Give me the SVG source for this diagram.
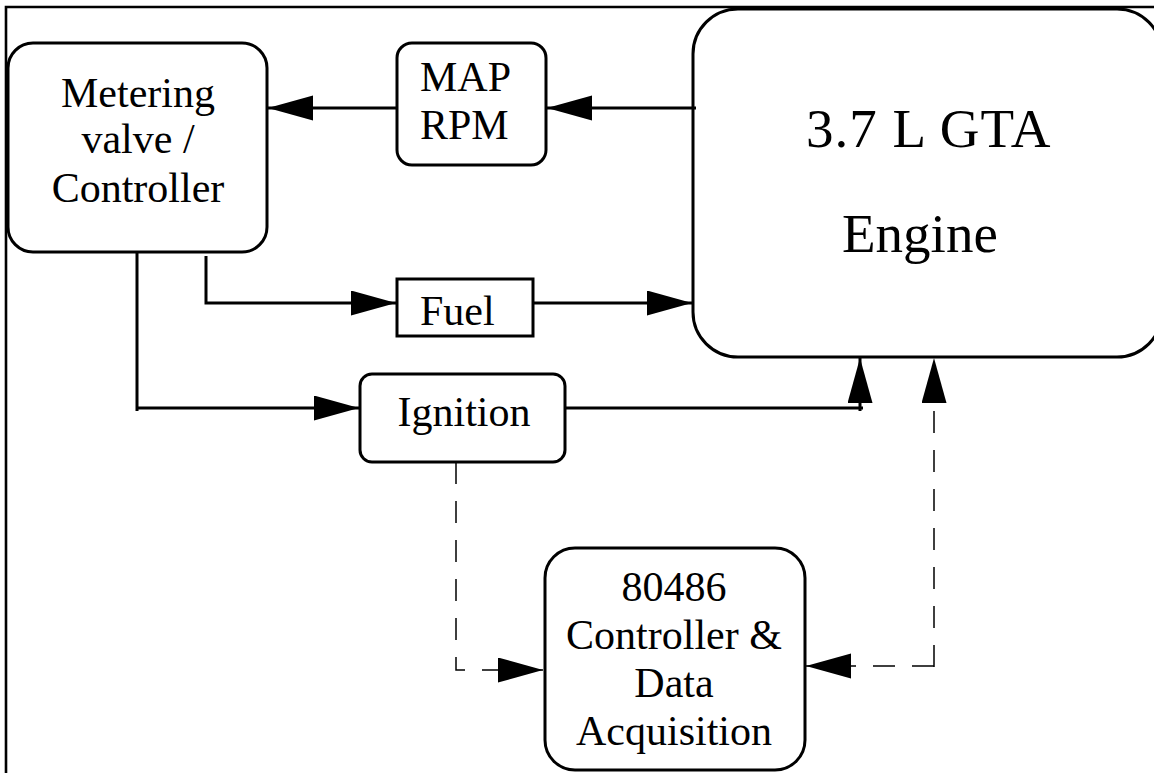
<svg xmlns="http://www.w3.org/2000/svg" width="1154" height="773" viewBox="0 0 1154 773">
<defs>
<style>
.box{fill:#fff;stroke:#000;stroke-width:3}
.t{font-family:"Liberation Serif","Times New Roman",serif;font-size:42px;fill:#000}
.big{font-size:55px}
.c{stroke:#000;stroke-width:3;fill:none}
.d{stroke:#000;stroke-width:1.5;fill:none;stroke-dasharray:22 17}
</style>
<marker id="ah" markerUnits="userSpaceOnUse" markerWidth="46" markerHeight="26" refX="45" refY="12.5" orient="auto">
<path d="M0,0 L45,12.5 L0,25 z" fill="#000"/>
</marker>
</defs>
<rect width="1154" height="773" fill="#fff"/>
<path d="M6,773 V7 H1154" fill="none" stroke="#000" stroke-width="2.6"/>
<g id="engine">
<rect class="box" x="693" y="9" width="469" height="348" rx="45"/>
<text class="t big" x="806" y="147" letter-spacing="1">3.7 L GTA</text>
<text class="t big" x="842" y="252">Engine</text>
</g>
<g id="metering">
<rect class="box" x="8" y="43" width="259" height="209" rx="25"/>
<text class="t" x="138" y="107" text-anchor="middle">Metering</text>
<text class="t" x="138" y="153" text-anchor="middle">valve /</text>
<text class="t" x="138" y="202" text-anchor="middle">Controller</text>
</g>
<g id="maprpm">
<rect class="box" x="397" y="43" width="149" height="122" rx="15"/>
<text class="t" x="420" y="91">MAP</text>
<text class="t" x="420" y="139">RPM</text>
</g>
<g id="fuel">
<rect class="box" x="397" y="279" width="136" height="57"/>
<text class="t" x="420" y="325">Fuel</text>
</g>
<g id="ignition">
<rect class="box" x="360" y="374" width="205" height="88" rx="12"/>
<text class="t" x="464" y="426" text-anchor="middle">Ignition</text>
</g>
<g id="daq">
<rect class="box" x="545" y="548" width="260" height="222" rx="30"/>
<text class="t" x="674" y="601" text-anchor="middle">80486</text>
<text class="t" x="674" y="649" text-anchor="middle">Controller &amp;</text>
<text class="t" x="674" y="697" text-anchor="middle">Data</text>
<text class="t" x="674" y="745" text-anchor="middle">Acquisition</text>
</g>
<g id="connectors">
<path class="c" d="M696,108 H547" marker-end="url(#ah)"/>
<path class="c" d="M397,108 H268" marker-end="url(#ah)"/>
<path class="c" d="M206,256 V303 H396" marker-end="url(#ah)"/>
<path class="c" d="M533,303 H692" marker-end="url(#ah)"/>
<path class="c" d="M137,252 V411 M137,408 H359" marker-end="url(#ah)"/>
<path class="c" d="M565,408 H863"/>
<path class="c" d="M860,411 V358" marker-end="url(#ah)"/>
<path class="d" d="M456,462 V670 H543" marker-end="url(#ah)"/>
<path class="d" d="M934,667 V358" marker-end="url(#ah)"/>
<path class="d" d="M934,666 H806" marker-end="url(#ah)"/>
</g>
</svg>
